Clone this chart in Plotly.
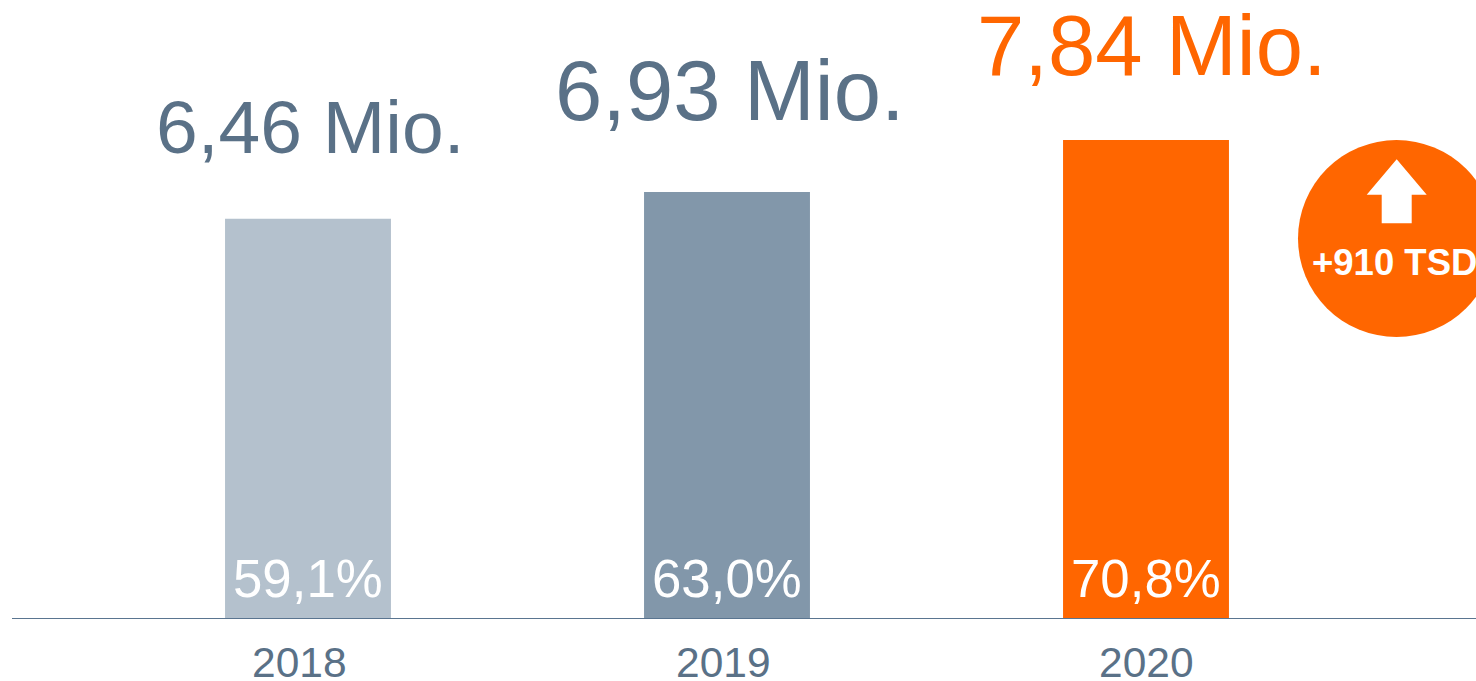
import plotly.graph_objects as go

years = ["2018", "2019", "2020"]
values = [6.46, 6.93, 7.84]
value_labels = ["6,46 Mio.", "6,93 Mio.", "7,84 Mio."]
shares = ["59,1%", "63,0%", "70,8%"]
bar_colors = ["#b4c1cd", "#8297aa", "#ff6600"]
label_colors = ["#5a7187", "#5a7187", "#ff6600"]
label_sizes = [75, 85, 85]
label_xshift = [2, 3, 6]
label_yshift = [33, 42, 35]
year_xshift = [-8.5, -3.5, 0.5]
badge_text = "+910 TSD"

W, H = 1476, 681
ML, MB = 12, 63
PW, PH = W - ML, H - MB
Y_MIN = -0.53
Y_MAX = 10.29
FONT = "Liberation Sans, Arial, sans-serif"
GREY = "#5a7187"


def px(x):
    return (x - ML) / PW


def py(y):
    return (PH - y) / PH


fig = go.Figure(
    go.Bar(
        x=[0, 1, 2],
        y=[v - Y_MIN for v in values],
        base=Y_MIN,
        width=0.396,
        marker=dict(color=bar_colors, line=dict(width=0)),
        hoverinfo="skip",
    )
)

annotations = []
for i, year in enumerate(years):
    annotations.append(dict(
        x=i, y=values[i], xref="x", yref="y", text=value_labels[i], showarrow=False,
        xanchor="center", yanchor="middle", xshift=label_xshift[i], yshift=label_yshift[i] + 59,
        font=dict(family=FONT, size=label_sizes[i], color=label_colors[i]),
    ))
    annotations.append(dict(
        x=i, y=Y_MIN, xref="x", yref="y", text=shares[i], showarrow=False,
        xanchor="center", yanchor="middle", xshift=-0.5, yshift=40,
        font=dict(family=FONT, size=52.8, color="#ffffff"),
    ))
    annotations.append(dict(
        x=i, y=Y_MIN, xref="x", yref="y", text=year, showarrow=False,
        xanchor="center", yanchor="middle", xshift=year_xshift[i], yshift=-44,
        font=dict(family=FONT, size=42.5, color=GREY),
    ))
annotations.append(dict(
    x=px(1394.5), y=py(262), xref="paper", yref="paper", text="<b>%s</b>" % badge_text, showarrow=False,
    xanchor="center", yanchor="middle",
    font=dict(family=FONT, size=36.5, color="#ffffff"),
))

arrow = [(1396.7, 159.3), (1426.7, 194.7), (1411.7, 194.7), (1411.7, 223.3),
         (1381.7, 223.3), (1381.7, 194.7), (1366.7, 194.7)]
path = "M " + " L ".join(f"{px(a):.5f} {py(b):.5f}" for a, b in arrow) + " Z"

shapes = [
    dict(type="circle", xref="paper", yref="paper", x0=px(1298), x1=px(1495), y0=py(337), y1=py(140),
         fillcolor="#ff6600", line=dict(width=0), layer="above"),
    dict(type="path", xref="paper", yref="paper", path=path, fillcolor="#ffffff", line=dict(width=0), layer="above"),
]

fig.update_layout(
    width=W, height=H,
    margin=dict(l=ML, r=0, t=0, b=MB, pad=0),
    paper_bgcolor="#ffffff", plot_bgcolor="#ffffff",
    showlegend=False,
    annotations=annotations,
    shapes=shapes,
    xaxis=dict(range=[(ML - 308) / 419, (W - 308) / 419], showgrid=False, zeroline=False,
               showticklabels=False, ticks="", showline=True, linecolor="#5a7590", linewidth=1),
    yaxis=dict(range=[Y_MIN, Y_MAX], showgrid=False, zeroline=False, showticklabels=False, ticks="", showline=False),
)

fig.write_html("out.html", config={"displayModeBar": False},
               post_script="document.body.style.margin='0';document.body.style.overflow='hidden';")
